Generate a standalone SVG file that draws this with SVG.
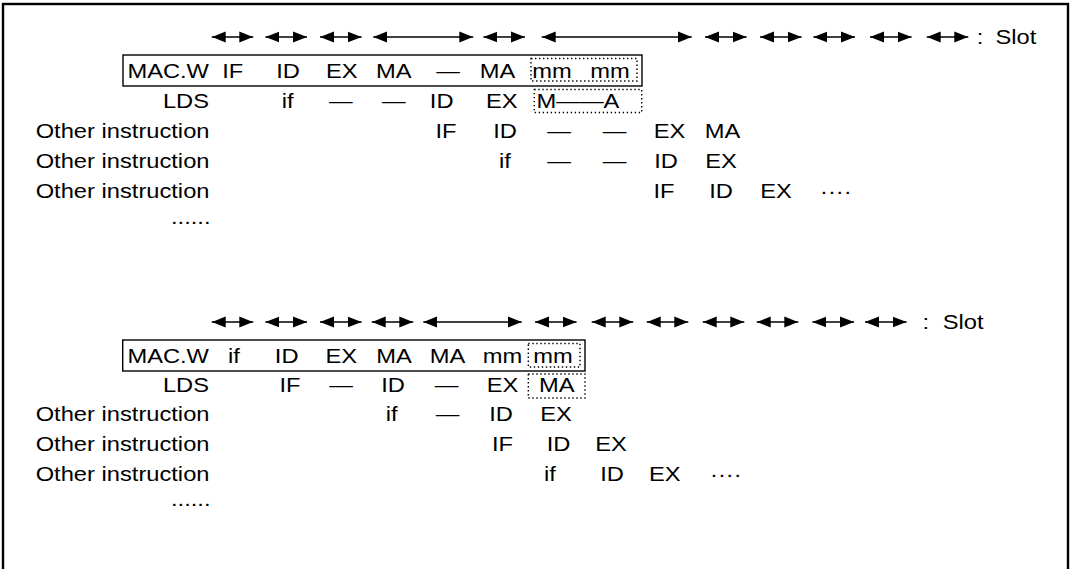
<svg xmlns="http://www.w3.org/2000/svg" width="1072" height="569" viewBox="0 0 1072 569">
<style>
text{font-family:"Liberation Sans",Arial,sans-serif;font-size:23.7px;fill:#000;text-anchor:middle}
.r{text-anchor:end}
.s{text-anchor:start}
.box{fill:none;stroke:#000;stroke-width:1.4}
.dot{fill:none;stroke:#000;stroke-width:1.4;stroke-dasharray:1.4 2.6}
.arr{stroke:#000;stroke-width:1.5;fill:none;marker-start:url(#ah);marker-end:url(#ah)}
</style>
<defs>
<marker id="ah" viewBox="0 0 14 12" refX="14" refY="6" markerWidth="14" markerHeight="12" orient="auto-start-reverse" markerUnits="userSpaceOnUse"><path d="M0,0.5 L14,6 L0,11.5 z" fill="#000"/></marker>
</defs>
<rect x="0" y="0" width="1072" height="569" fill="#fff"/>
<rect id="frame" x="3" y="4" width="1065" height="580" fill="none" stroke="#000" stroke-width="2.4"/>

<g id="connectors">
<line class="arr" x1="211.7" y1="37" x2="253.3" y2="37"/>
<line class="arr" x1="265.4" y1="37" x2="307" y2="37"/>
<line class="arr" x1="320" y1="37" x2="361.6" y2="37"/>
<line class="arr" x1="373.3" y1="37" x2="473.3" y2="37"/>
<line class="arr" x1="483.4" y1="37" x2="525" y2="37"/>
<line class="arr" x1="541.7" y1="37" x2="691.7" y2="37"/>
<line class="arr" x1="705" y1="37" x2="746.6" y2="37"/>
<line class="arr" x1="760" y1="37" x2="801.6" y2="37"/>
<line class="arr" x1="813.4" y1="37" x2="855" y2="37"/>
<line class="arr" x1="870" y1="37" x2="911.6" y2="37"/>
<line class="arr" x1="926.7" y1="37" x2="968.3" y2="37"/>

<line class="arr" x1="211.7" y1="322" x2="253.3" y2="322"/>
<line class="arr" x1="265.4" y1="322" x2="307" y2="322"/>
<line class="arr" x1="320" y1="322" x2="361.6" y2="322"/>
<line class="arr" x1="371.7" y1="322" x2="413.3" y2="322"/>
<line class="arr" x1="423.3" y1="322" x2="521.7" y2="322"/>
<line class="arr" x1="535" y1="322" x2="576.6" y2="322"/>
<line class="arr" x1="591.7" y1="322" x2="633.3" y2="322"/>
<line class="arr" x1="646.7" y1="322" x2="688.3" y2="322"/>
<line class="arr" x1="702.7" y1="322" x2="744.3" y2="322"/>
<line class="arr" x1="756.7" y1="322" x2="798.3" y2="322"/>
<line class="arr" x1="812.4" y1="322" x2="854" y2="322"/>
<line class="arr" x1="865" y1="322" x2="906.6" y2="322"/>
</g>

<g id="slot-legend-top" transform="translate(0,44.3) scale(1,0.86)">
<text x="980" y="0">:</text>
<text class="s" x="995.5" y="0">Slot</text>
</g>
<g id="slot-legend-bottom" transform="translate(0,329.3) scale(1,0.86)">
<text x="925.7" y="0">:</text>
<text class="s" x="942.8" y="0">Slot</text>
</g>

<g id="top-macw">
<rect class="box" x="123" y="55" width="519" height="31"/>
<rect class="dot" x="531" y="58.5" width="106" height="22.5"/>
<g transform="translate(0,77.5) scale(1,0.86)">
<text class="r" x="209" y="0">MAC.W</text>
<text x="232.7" y="0">IF</text>
<text x="288" y="0">ID</text>
<text x="341.7" y="0">EX</text>
<text x="393.8" y="0">MA</text>
<text x="448" y="0">—</text>
<text x="497.5" y="0">MA</text>
<text x="552" y="0">mm</text>
<text x="610" y="0">mm</text>
</g>
</g>

<g id="top-lds">
<rect class="dot" x="534.3" y="89.5" width="107.4" height="23"/>
<g transform="translate(0,108) scale(1,0.86)">
<text class="r" x="209" y="0">LDS</text>
<text x="287.7" y="0">if</text>
<text x="340.8" y="0">—</text>
<text x="393.8" y="0">—</text>
<text x="441.7" y="0">ID</text>
<text x="501.7" y="0">EX</text>
<text class="s" x="536.5" y="0">M——A</text>
</g>
</g>

<g id="top-other1" transform="translate(0,138) scale(1,0.86)">
<text class="r" x="209.5" y="0">Other instruction</text>
<text x="446" y="0">IF</text>
<text x="505" y="0">ID</text>
<text x="559" y="0">—</text>
<text x="614.7" y="0">—</text>
<text x="669.5" y="0">EX</text>
<text x="722.5" y="0">MA</text>
</g>
<g id="top-other2" transform="translate(0,168) scale(1,0.86)">
<text class="r" x="209.5" y="0">Other instruction</text>
<text x="505" y="0">if</text>
<text x="559" y="0">—</text>
<text x="614.7" y="0">—</text>
<text x="666" y="0">ID</text>
<text x="721" y="0">EX</text>
</g>
<g id="top-other3" transform="translate(0,198) scale(1,0.86)">
<text class="r" x="209.5" y="0">Other instruction</text>
<text x="664" y="0">IF</text>
<text x="721" y="0">ID</text>
<text x="776" y="0">EX</text>
<text class="s" x="820" y="0">····</text>
</g>
<g id="top-more" transform="translate(0,224) scale(1,0.86)">
<text class="r" x="210.5" y="0">......</text>
</g>

<g id="bottom-macw">
<rect class="box" x="122.7" y="340" width="462.3" height="31"/>
<rect class="dot" x="528.3" y="343.5" width="51.7" height="23.5"/>
<g transform="translate(0,362.5) scale(1,0.86)">
<text class="r" x="209" y="0">MAC.W</text>
<text x="234" y="0">if</text>
<text x="286.7" y="0">ID</text>
<text x="341.3" y="0">EX</text>
<text x="394" y="0">MA</text>
<text x="447.5" y="0">MA</text>
<text x="502.5" y="0">mm</text>
<text x="553" y="0">mm</text>
</g>
</g>

<g id="bottom-lds">
<rect class="dot" x="528.3" y="374" width="56.7" height="24"/>
<g transform="translate(0,391.5) scale(1,0.86)">
<text class="r" x="209" y="0">LDS</text>
<text x="290" y="0">IF</text>
<text x="341" y="0">—</text>
<text x="393" y="0">ID</text>
<text x="446.7" y="0">—</text>
<text x="502.5" y="0">EX</text>
<text x="556.7" y="0">MA</text>
</g>
</g>

<g id="bottom-other1" transform="translate(0,421) scale(1,0.86)">
<text class="r" x="209.5" y="0">Other instruction</text>
<text x="391.6" y="0">if</text>
<text x="447.7" y="0">—</text>
<text x="501" y="0">ID</text>
<text x="556" y="0">EX</text>
</g>
<g id="bottom-other2" transform="translate(0,451) scale(1,0.86)">
<text class="r" x="209.5" y="0">Other instruction</text>
<text x="502.5" y="0">IF</text>
<text x="558.5" y="0">ID</text>
<text x="611" y="0">EX</text>
</g>
<g id="bottom-other3" transform="translate(0,481) scale(1,0.86)">
<text class="r" x="209.5" y="0">Other instruction</text>
<text x="550" y="0">if</text>
<text x="612" y="0">ID</text>
<text x="664.8" y="0">EX</text>
<text class="s" x="710" y="0">····</text>
</g>
<g id="bottom-more" transform="translate(0,505.5) scale(1,0.86)">
<text class="r" x="210.5" y="0">......</text>
</g>
</svg>
